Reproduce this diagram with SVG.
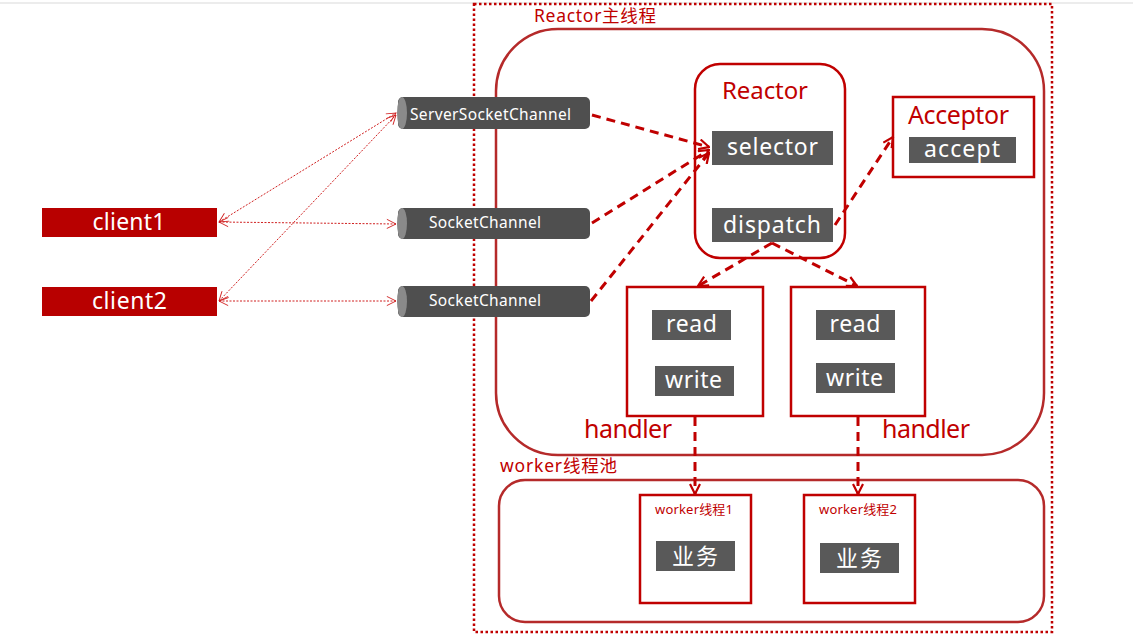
<svg xmlns="http://www.w3.org/2000/svg" width="1133" height="636" viewBox="0 0 1133 636">
<defs>
<style>
.t{font-family:"Noto Sans","Open Sans","Noto Sans CJK SC",sans-serif}
.red{fill:#c00000}
.wt{fill:#ffffff}
.dk{fill:#595959}
.box{fill:#ffffff;stroke:#c00000;stroke-width:2.5}
.rbox{fill:none;stroke:#b52a2a;stroke-width:2.5}
.dash{fill:none;stroke:#c00000;stroke-width:3;stroke-dasharray:9 6}
.thin{fill:none;stroke:#d02020;stroke-width:1;stroke-dasharray:2 1.5}
</style>
<marker id="ah" viewBox="0 0 12 12" refX="11" refY="6" markerWidth="12" markerHeight="12" markerUnits="userSpaceOnUse" orient="auto-start-reverse">
<path d="M1,1 L11,6 L1,11" fill="none" stroke="#c00000" stroke-width="2.2"/>
</marker>
<marker id="ahs" viewBox="0 0 12 12" refX="11" refY="6" markerWidth="11" markerHeight="11" markerUnits="userSpaceOnUse" orient="auto-start-reverse">
<path d="M1,1 L11,6 L1,11" fill="none" stroke="#d02020" stroke-width="1"/>
</marker>
</defs>
<rect width="1133" height="636" fill="#ffffff"/>
<line x1="0" y1="3" x2="1133" y2="3" stroke="#ececec" stroke-width="2"/>

<g id="main-thread">
<rect x="474" y="4" width="578" height="628" fill="none" stroke="#c00000" stroke-width="2.5" stroke-dasharray="2.5 2.5"/>
<text class="t red" x="534" y="22" font-size="17.5" textLength="122">Reactor主线程</text>
<rect class="rbox" x="496" y="29" width="548" height="426" rx="62"/>
</g>

<g id="worker-pool">
<text class="t red" x="500" y="472" font-size="17.5" textLength="117">worker线程池</text>
<rect class="rbox" x="499" y="480" width="545" height="142" rx="26"/>
</g>

<g id="reactor">
<rect class="box" x="695" y="64" width="150" height="194" rx="25"/>
<text class="t red" x="765" y="99" font-size="24" text-anchor="middle" textLength="86">Reactor</text>
<rect class="dk" x="712" y="131" width="121" height="34"/>
<text class="t wt" x="772.5" y="155" font-size="23" text-anchor="middle" textLength="91">selector</text>
<rect class="dk" x="712" y="208" width="121" height="34"/>
<text class="t wt" x="772" y="233" font-size="23" text-anchor="middle" textLength="98">dispatch</text>
</g>

<g id="acceptor">
<rect class="box" x="893" y="97" width="141" height="80"/>
<text class="t red" x="958.5" y="124" font-size="25" text-anchor="middle" textLength="101">Acceptor</text>
<rect class="dk" x="909" y="137" width="107" height="26"/>
<text class="t wt" x="962" y="157" font-size="23" text-anchor="middle" textLength="76">accept</text>
</g>

<g id="handler1">
<rect class="box" x="627" y="287" width="136" height="129"/>
<rect class="dk" x="652" y="310" width="79" height="30"/>
<text class="t wt" x="691.5" y="332" font-size="23" text-anchor="middle" textLength="51">read</text>
<rect class="dk" x="655" y="366" width="79" height="30"/>
<text class="t wt" x="693.5" y="388" font-size="23" text-anchor="middle" textLength="57">write</text>
<text class="t red" x="628" y="438" font-size="25" text-anchor="middle" textLength="88">handler</text>
</g>

<g id="handler2">
<rect class="box" x="791" y="287" width="134" height="129"/>
<rect class="dk" x="816" y="310" width="79" height="30"/>
<text class="t wt" x="855" y="332" font-size="23" text-anchor="middle" textLength="51">read</text>
<rect class="dk" x="816" y="363" width="79" height="30"/>
<text class="t wt" x="854.5" y="386" font-size="23" text-anchor="middle" textLength="57">write</text>
<text class="t red" x="926" y="438" font-size="25" text-anchor="middle" textLength="88">handler</text>
</g>

<g id="worker1">
<rect class="box" x="640" y="495" width="111" height="108"/>
<text class="t red" x="694" y="514" font-size="13" text-anchor="middle" textLength="78">worker线程1</text>
<rect class="dk" x="656" y="541" width="79" height="30"/>
<text class="t wt" x="695" y="564" font-size="22" text-anchor="middle" textLength="46">业务</text>
</g>

<g id="worker2">
<rect class="box" x="804" y="495" width="111" height="108"/>
<text class="t red" x="858" y="514" font-size="13" text-anchor="middle" textLength="78">worker线程2</text>
<rect class="dk" x="820" y="543" width="79" height="30"/>
<text class="t wt" x="859" y="566" font-size="22" text-anchor="middle" textLength="46">业务</text>
</g>

<g id="server-socket-channel">
<rect x="398" y="97" width="192" height="32" rx="5" fill="#4f4f4f"/>
<ellipse cx="402" cy="113" rx="5" ry="16" fill="#8a8a8a"/>
<text class="t wt" x="490.5" y="120" font-size="15.5" text-anchor="middle" textLength="161">ServerSocketChannel</text>
</g>

<g id="socket-channel1">
<rect x="398" y="208" width="192" height="31" rx="5" fill="#4f4f4f"/>
<ellipse cx="402" cy="223.5" rx="5" ry="15.5" fill="#8a8a8a"/>
<text class="t wt" x="485" y="228" font-size="15.5" text-anchor="middle" textLength="112">SocketChannel</text>
</g>

<g id="socket-channel2">
<rect x="398" y="286" width="192" height="31" rx="5" fill="#4f4f4f"/>
<ellipse cx="402" cy="301.5" rx="5" ry="15.5" fill="#8a8a8a"/>
<text class="t wt" x="485" y="306" font-size="15.5" text-anchor="middle" textLength="112">SocketChannel</text>
</g>

<g id="client1">
<rect x="42" y="208" width="175" height="29" fill="#b80000"/>
<text class="t wt" x="129" y="230" font-size="23" text-anchor="middle" textLength="73">client1</text>
</g>

<g id="client2">
<rect x="42" y="287" width="175" height="29" fill="#b80000"/>
<text class="t wt" x="129.5" y="309" font-size="23" text-anchor="middle" textLength="75">client2</text>
</g>

<g id="connectors">
<line class="thin" x1="219" y1="222" x2="396" y2="113" marker-start="url(#ahs)" marker-end="url(#ahs)"/>
<line class="thin" x1="219" y1="222" x2="396" y2="224" marker-start="url(#ahs)" marker-end="url(#ahs)"/>
<line class="thin" x1="219" y1="301" x2="396" y2="115" marker-start="url(#ahs)" marker-end="url(#ahs)"/>
<line class="thin" x1="219" y1="301" x2="396" y2="301" marker-start="url(#ahs)" marker-end="url(#ahs)"/>
<line class="dash" x1="592" y1="115" x2="709" y2="147" marker-end="url(#ah)"/>
<line class="dash" x1="592" y1="223" x2="709" y2="150" marker-end="url(#ah)"/>
<line class="dash" x1="591" y1="301" x2="709" y2="153" marker-end="url(#ah)"/>
<line class="dash" x1="835" y1="225" x2="893" y2="137" marker-end="url(#ah)"/>
<line class="dash" x1="772" y1="243" x2="698" y2="286" marker-end="url(#ah)"/>
<line class="dash" x1="772" y1="243" x2="857" y2="286" marker-end="url(#ah)"/>
<line class="dash" x1="695" y1="417" x2="695" y2="494" marker-end="url(#ah)"/>
<line class="dash" x1="858" y1="417" x2="858" y2="494" marker-end="url(#ah)"/>
</g>
</svg>
